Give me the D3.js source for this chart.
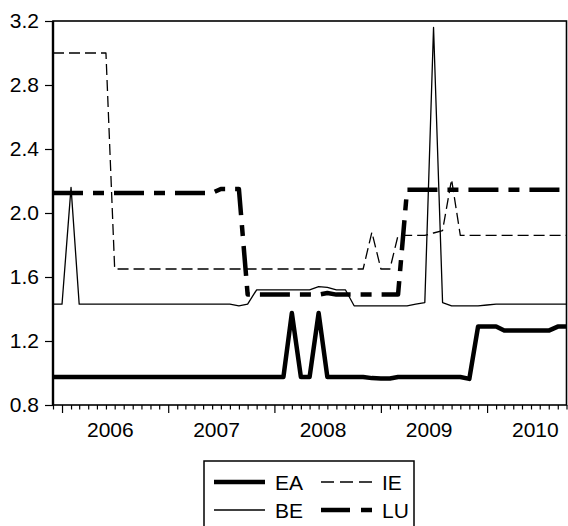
<!DOCTYPE html>
<html>
<head>
<meta charset="utf-8">
<script src="https://cdn.jsdelivr.net/npm/d3@7"></script>
<style>
  body { margin: 0; background: #fff; }
  svg text { font-family: "Liberation Sans", Arial, sans-serif; fill: #000; }
  .axis path { display: none; }
  .axis line { stroke: #000; stroke-width: 1.2; }
</style>
</head>
<body>
<svg id="chart" width="568" height="526"></svg>
<script>

// monthly observations, 2005M12 .. 2010M10
var startMonth = new Date(2005, 11, 1);
var endMonth = new Date(2010, 9, 1);
var months = d3.timeMonth.range(startMonth, d3.timeMonth.offset(endMonth, 1));

var yearLabels = [2006, 2007, 2008, 2009, 2010];
var yTicks = [0.8, 1.2, 1.6, 2.0, 2.4, 2.8, 3.2];

var EA = [0.975,
  0.975, 0.975, 0.975, 0.975, 0.975, 0.975, 0.975, 0.975, 0.975, 0.975, 0.975, 0.975,
  0.975, 0.975, 0.975, 0.975, 0.975, 0.975, 0.975, 0.975, 0.975, 0.975, 0.975, 0.975,
  0.975, 0.975, 1.375, 0.975, 0.975, 1.375, 0.975, 0.975, 0.975, 0.975, 0.975, 0.968,
  0.965, 0.966, 0.975, 0.975, 0.975, 0.975, 0.975, 0.975, 0.975, 0.975, 0.963, 1.29,
  1.29, 1.29, 1.265, 1.265, 1.265, 1.265, 1.265, 1.265, 1.29, 1.29];

var BE = [1.43,
  1.43, 2.16, 1.43, 1.43, 1.43, 1.43, 1.43, 1.43, 1.43, 1.43, 1.43, 1.43,
  1.43, 1.43, 1.43, 1.43, 1.43, 1.43, 1.43, 1.43, 1.42, 1.43, 1.52, 1.52,
  1.52, 1.52, 1.52, 1.52, 1.52, 1.54, 1.535, 1.52, 1.52, 1.42, 1.42, 1.42,
  1.42, 1.42, 1.42, 1.42, 1.43, 1.44, 3.16, 1.44, 1.42, 1.42, 1.42, 1.42,
  1.425, 1.43, 1.43, 1.43, 1.43, 1.43, 1.43, 1.43, 1.43, 1.43];

var IE = [3.0,
  3.0, 3.0, 3.0, 3.0, 3.0, 3.0, 1.65, 1.65, 1.65, 1.65, 1.65, 1.65,
  1.65, 1.65, 1.65, 1.65, 1.65, 1.65, 1.65, 1.65, 1.65, 1.65, 1.65, 1.65,
  1.65, 1.65, 1.65, 1.65, 1.65, 1.65, 1.65, 1.65, 1.65, 1.65, 1.65, 1.88,
  1.65, 1.65, 1.86, 1.86, 1.86, 1.86, 1.875, 1.89, 2.21, 1.86, 1.86, 1.86,
  1.86, 1.86, 1.86, 1.86, 1.86, 1.86, 1.86, 1.86, 1.86, 1.86];

var LU = [2.125,
  2.125, 2.125, 2.125, 2.125, 2.125, 2.125, 2.125, 2.125, 2.125, 2.125, 2.125, 2.125,
  2.125, 2.125, 2.125, 2.125, 2.125, 2.125, 2.15, 2.15, 2.15, 1.49, 1.49, 1.49,
  1.49, 1.49, 1.49, 1.49, 1.49, 1.49, 1.50, 1.49, 1.49, 1.49, 1.49, 1.49,
  1.49, 1.49, 1.49, 2.145, 2.145, 2.145, 2.145, 2.145, 2.145, 2.145, 2.145, 2.145,
  2.145, 2.145, 2.145, 2.145, 2.145, 2.145, 2.145, 2.145, 2.145, 2.145];

var series = [
  {name: "EA", values: EA, width: 4.5, dash: null},
  {name: "BE", values: BE, width: 1.3, dash: null},
  {name: "IE", values: IE, width: 1.3, dash: "11,5"},
  {name: "LU", values: LU, width: 4.5, dash: "30,10,11,10"}
];

var margin = {top: 21, right: 1.5, bottom: 121, left: 53};
var width = 568 - margin.left - margin.right;
var height = 526 - margin.top - margin.bottom;
var fontSize = 21;

var svg = d3.select("#chart");
var g = svg.append("g")
    .attr("transform", "translate(" + margin.left + "," + margin.top + ")");

var x = d3.scaleTime()
    .domain([startMonth, endMonth])
    .range([0, width]);

var y = d3.scaleLinear()
    .domain([0.8, 3.2])
    .range([height, 0]);

// y axis
var yAxis = g.append("g")
    .attr("class", "axis")
    .call(d3.axisLeft(y).tickValues(yTicks).tickSize(8).tickPadding(6).tickFormat(d3.format(".1f")));
yAxis.selectAll("text")
    .attr("font-size", fontSize)
    .attr("dy", "0.3em");

// x axis: a tick every month, longer at each January
var xAxis = g.append("g")
    .attr("class", "axis")
    .attr("transform", "translate(0," + height + ")")
    .call(d3.axisBottom(x).tickValues(months).tickSize(4).tickFormat(""));
xAxis.selectAll(".tick line")
    .attr("y2", function(d) { return d.getMonth() === 0 ? 8 : 4.5; });

g.selectAll(".year-label")
    .data(yearLabels)
  .enter().append("text")
    .attr("class", "year-label")
    .attr("x", function(d) { return x(new Date(d, 5, 16)); })
    .attr("y", height + 32)
    .attr("text-anchor", "middle")
    .attr("font-size", fontSize)
    .text(function(d) { return d; });

var line = d3.line()
    .x(function(d, i) { return x(months[i]); })
    .y(function(d) { return y(d); });

g.selectAll(".series")
    .data(series)
  .enter().append("path")
    .attr("class", "series")
    .attr("fill", "none")
    .attr("stroke", "#000")
    .attr("stroke-width", function(d) { return d.width; })
    .attr("stroke-dasharray", function(d) { return d.dash; })
    .attr("stroke-linejoin", "round")
    .attr("d", function(d) { return line(d.values); });

// frame
g.append("rect")
    .attr("width", width)
    .attr("height", height)
    .attr("fill", "none")
    .attr("stroke", "#000")
    .attr("stroke-width", 1.6);
g.append("line")
    .attr("x1", 0).attr("x2", 0)
    .attr("y1", 0).attr("y2", height)
    .attr("stroke", "#000")
    .attr("stroke-width", 2.4);

// legend
var legend = svg.append("g")
    .attr("transform", "translate(204,461)");

legend.append("rect")
    .attr("width", 210)
    .attr("height", 90)
    .attr("fill", "none")
    .attr("stroke", "#000")
    .attr("stroke-width", 1.5);

var legendPos = {
  EA: [10, 21], BE: [10, 49],
  IE: [117, 21], LU: [117, 49]
};

var items = legend.selectAll(".item")
    .data(series)
  .enter().append("g")
    .attr("class", "item")
    .attr("transform", function(d) { return "translate(" + legendPos[d.name][0] + "," + legendPos[d.name][1] + ")"; });

items.append("line")
    .attr("x1", 0).attr("x2", 51)
    .attr("stroke", "#000")
    .attr("stroke-width", function(d) { return d.width; })
    .attr("stroke-dasharray", function(d) { return d.name === "IE" ? "13,6" : d.name === "LU" ? "29,11,11,10" : null; });

items.append("text")
    .attr("x", 61)
    .attr("dy", "0.36em")
    .attr("font-size", fontSize)
    .text(function(d) { return d.name; });

</script>
</body>
</html>
